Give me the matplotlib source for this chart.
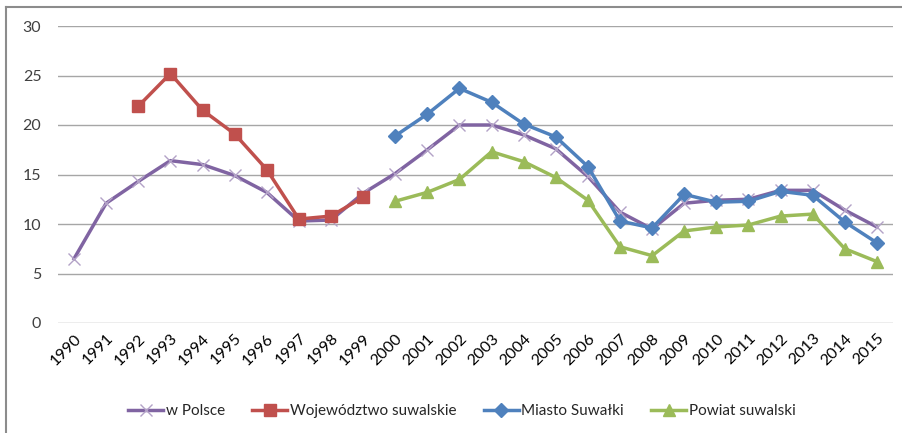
import matplotlib
matplotlib.use("Agg")
import matplotlib.pyplot as plt
from matplotlib.lines import Line2D
import numpy as np

years = [str(y) for y in range(1990, 2016)]

w_polsce = [6.5, 12.1, 14.3, 16.4, 16.0, 14.9, 13.2, 10.3, 10.4, 13.1, 15.1, 17.5,
            20.0, 20.0, 19.0, 17.6, 14.8, 11.2, 9.5, 12.1, 12.4, 12.5, 13.4, 13.4, 11.4, 9.7]

woj_years = list(range(1992, 2000))
woj_suwalskie = [21.9, 25.2, 21.5, 19.1, 15.5, 10.5, 10.8, 12.7]

city_years = list(range(2000, 2016))
miasto_suwalki = [18.9, 21.1, 23.7, 22.3, 20.1, 18.8, 15.8, 10.3, 9.6, 13.0, 12.2, 12.3,
                  13.3, 12.9, 10.2, 8.1]
powiat_suwalski = [12.3, 13.2, 14.5, 17.3, 16.3, 14.7, 12.4, 7.7, 6.8, 9.3, 9.7, 9.9,
                   10.8, 11.0, 7.5, 6.2]

labels = ["w Polsce", "Województwo suwalskie", "Miasto Suwałki", "Powiat suwalski"]

plt.rcParams['font.family'] = ['Lato', 'DejaVu Sans']
TXT = '#404040'

fig = plt.figure(figsize=(9.02, 4.33), dpi=100)
ax = fig.add_axes([58/902, 1-323/433, (893-58)/902, (323-26)/433])

x_all = np.arange(len(years))
idx = lambda ys: [y - 1990 for y in ys]

purple, red, blue, green = '#8064A2', '#C0504D', '#4F81BD', '#9BBB59'

ax.plot(x_all, w_polsce, color=purple, lw=2.5, marker='x', ms=9,
        mec='#B3A2C7', mew=1.0, zorder=3)
ax.plot(idx(woj_years), woj_suwalskie, color=red, lw=2.5, marker='s', ms=9,
        mec=red, mfc=red, zorder=4)
ax.plot(idx(city_years), miasto_suwalki, color=blue, lw=2.5, marker='D', ms=7,
        mec=blue, mfc=blue, zorder=5)
ax.plot(idx(city_years), powiat_suwalski, color=green, lw=2.5, marker='^', ms=9,
        mec=green, mfc=green, zorder=4)

ax.set_xlim(-0.5, len(years) - 0.5)
ax.set_ylim(0, 30)
ax.set_yticks(range(0, 31, 5))
ax.set_xticks(x_all)
ax.set_xticklabels(years, rotation=45, ha='right', rotation_mode='anchor',
                   fontsize=11.5, color='black')
ax.tick_params(axis='x', length=0, pad=6)
ax.tick_params(axis='y', length=0, pad=12, labelsize=11.5, labelcolor=TXT)
for s in ax.spines.values():
    s.set_visible(False)
ax.grid(axis='y', color='#A6A6A6', lw=1.0)
ax.set_axisbelow(True)

handles = [
    Line2D([], [], color=purple, lw=2.5, marker='x', ms=9, mec='#B3A2C7', mew=1.0),
    Line2D([], [], color=red, lw=2.5, marker='s', ms=9, mec=red, mfc=red),
    Line2D([], [], color=blue, lw=2.5, marker='D', ms=7, mec=blue, mfc=blue),
    Line2D([], [], color=green, lw=2.5, marker='^', ms=9, mec=green, mfc=green),
]
fig.legend(handles, labels, loc='center', bbox_to_anchor=(0.512, 1-411/433), ncol=4,
           frameon=False, fontsize=11, handlelength=2.3, handletextpad=0.15,
           columnspacing=1.8, labelcolor='#262626')

# chart frame (left and top edges visible)
fig.add_artist(Line2D([6/902, 6/902], [0, 1-7/433], transform=fig.transFigure,
                      color='#8C8C8C', lw=1.5))
fig.add_artist(Line2D([6/902, 1], [1-7/433, 1-7/433], transform=fig.transFigure,
                      color='#8C8C8C', lw=1.5))

fig.savefig('out.png', dpi=100)
